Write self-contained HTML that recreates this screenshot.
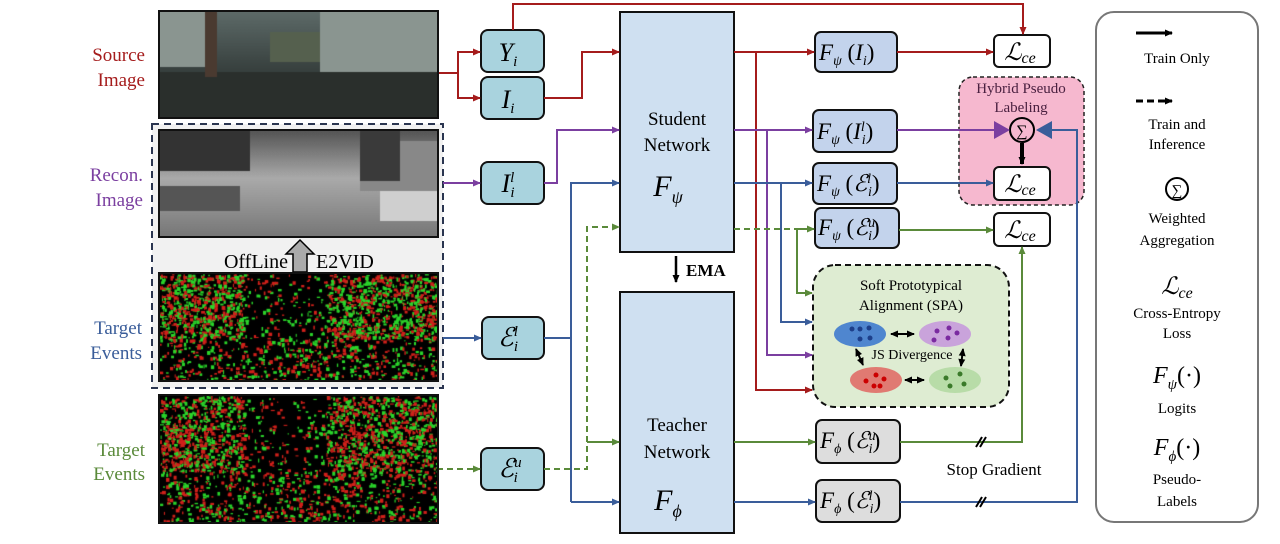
<!DOCTYPE html>
<html><head><meta charset="utf-8"><style>
html,body{margin:0;padding:0;background:#fff;width:1280px;height:544px;overflow:hidden}
#w{position:relative;width:1280px;height:544px}
canvas{position:absolute;z-index:2;outline:2px solid #111}
svg{position:absolute;left:0;top:0;z-index:1}
text{font-family:"Liberation Serif",serif}
.m{font-style:italic}
</style></head><body><div id="w">
<canvas id="c1" width="277" height="105" style="left:160px;top:12px"></canvas>
<canvas id="c2" width="277" height="105" style="left:160px;top:131px"></canvas>
<canvas id="c3" width="277" height="106" style="left:160px;top:274px"></canvas>
<canvas id="c4" width="277" height="126" style="left:160px;top:396px"></canvas>
<svg width="1280" height="544" viewBox="0 0 1280 544">
<defs>
<marker id="ar" markerWidth="8" markerHeight="8" refX="7" refY="4" orient="auto" markerUnits="userSpaceOnUse"><path d="M0,0.5 L8,4 L0,7.5z" fill="#a51c1c"/></marker>
<marker id="ap" markerWidth="8" markerHeight="8" refX="7" refY="4" orient="auto" markerUnits="userSpaceOnUse"><path d="M0,0.5 L8,4 L0,7.5z" fill="#7b3fa0"/></marker>
<marker id="ab" markerWidth="8" markerHeight="8" refX="7" refY="4" orient="auto" markerUnits="userSpaceOnUse"><path d="M0,0.5 L8,4 L0,7.5z" fill="#3a5d9a"/></marker>
<marker id="ag" markerWidth="8" markerHeight="8" refX="7" refY="4" orient="auto" markerUnits="userSpaceOnUse"><path d="M0,0.5 L8,4 L0,7.5z" fill="#5a8a3a"/></marker>
<marker id="ak" markerWidth="8" markerHeight="8" refX="7" refY="4" orient="auto-start-reverse" markerUnits="userSpaceOnUse"><path d="M0,0.5 L8,4 L0,7.5z" fill="#000"/></marker>
</defs>
<rect x="152" y="124" width="291" height="264" fill="#f1f1f1" stroke="#2a3550" stroke-width="2" stroke-dasharray="7,5"/>
<text x="288" y="268" font-size="20" text-anchor="end">OffLine</text>
<path d="M293,272 V254 H286 L300,240 L314,254 H307 V272 Z" fill="#aaa" stroke="#000" stroke-width="1.5"/>
<text x="316" y="268" font-size="20">E2VID</text>
<g font-size="19" text-anchor="end">
<text x="145" y="61" fill="#a51c1c">Source</text><text x="145" y="86" fill="#a51c1c">Image</text>
<text x="143" y="181" fill="#7b3fa0">Recon.</text><text x="143" y="206" fill="#7b3fa0">Image</text>
<text x="142" y="334" fill="#3a5d9a">Target</text><text x="142" y="359" fill="#3a5d9a">Events</text>
<text x="145" y="456" fill="#5a8a3a">Target</text><text x="145" y="480" fill="#5a8a3a">Events</text>
</g>
<g fill="#a9d3de" stroke="#111" stroke-width="2">
<rect x="481" y="30" width="63" height="42" rx="7"/>
<rect x="481" y="77" width="63" height="42" rx="7"/>
<rect x="481" y="162" width="63" height="42" rx="7"/>
<rect x="482" y="317" width="62" height="42" rx="7"/>
<rect x="481" y="448" width="63" height="42" rx="7"/>
</g>
<g font-size="26" class="m" text-anchor="middle">
<text x="508" y="61" class="m">Y<tspan font-size="15" dy="5">i</tspan></text>
<text x="508" y="108" class="m">I<tspan font-size="15" dy="5">i</tspan></text>
<text x="508" y="192" class="m">I<tspan font-size="15" dy="-10">l</tspan><tspan font-size="15" dx="-4" dy="15">i</tspan></text>
<text x="508" y="346" class="m">ℰ<tspan font-size="15" dy="-10">l</tspan><tspan font-size="15" dx="-4" dy="15">i</tspan></text>
<text x="510" y="477" class="m">ℰ<tspan font-size="15" dy="-10">u</tspan><tspan font-size="15" dx="-8" dy="15">i</tspan></text>
</g>
<rect x="620" y="12" width="114" height="240" fill="#cfe0f1" stroke="#111" stroke-width="2"/>
<rect x="620" y="292" width="114" height="241" fill="#cfe0f1" stroke="#111" stroke-width="2"/>
<g font-size="19" text-anchor="middle"><text x="677" y="125">Student</text><text x="677" y="151">Network</text>
<text x="677" y="431">Teacher</text><text x="677" y="458">Network</text></g>
<text x="668" y="196" font-size="30" class="m" text-anchor="middle">F<tspan font-size="18" dy="7">ψ</tspan></text>
<text x="668" y="510" font-size="30" class="m" text-anchor="middle">F<tspan font-size="18" dy="7">ϕ</tspan></text>
<line x1="676" y1="256" x2="676" y2="282" stroke="#000" stroke-width="2.5" marker-end="url(#ak)"/>
<text x="686" y="276" font-size="17" font-weight="bold">EMA</text>
<g stroke="#111" stroke-width="2">
<rect x="815" y="32" width="82" height="40" rx="6" fill="#c3d3ec"/>
<rect x="813" y="110" width="84" height="42" rx="6" fill="#c3d3ec"/>
<rect x="813" y="163" width="84" height="41" rx="6" fill="#c3d3ec"/>
<rect x="815" y="208" width="84" height="40" rx="6" fill="#c3d3ec"/>
<rect x="816" y="420" width="84" height="43" rx="6" fill="#ddd"/>
<rect x="816" y="480" width="84" height="42" rx="6" fill="#ddd"/>
</g>
<g font-size="23" class="m">
<text x="819" y="60">F<tspan font-size="14" dy="5">ψ</tspan><tspan dy="-5" font-style="normal"> (</tspan>I<tspan font-size="14" dy="5">i</tspan><tspan dy="-5" font-style="normal">)</tspan></text>
<text x="817" y="139">F<tspan font-size="14" dy="5">ψ</tspan><tspan dy="-5" font-style="normal"> (</tspan>I<tspan font-size="14" dy="-8">l</tspan><tspan font-size="14" dx="-3" dy="13">i</tspan><tspan dy="-5" font-style="normal">)</tspan></text>
<text x="817" y="191">F<tspan font-size="14" dy="5">ψ</tspan><tspan dy="-5" font-style="normal"> (</tspan>ℰ<tspan font-size="14" dy="-8">l</tspan><tspan font-size="14" dx="-3" dy="13">i</tspan><tspan dy="-5" font-style="normal">)</tspan></text>
<text x="818" y="235">F<tspan font-size="14" dy="5">ψ</tspan><tspan dy="-5" font-style="normal"> (</tspan>ℰ<tspan font-size="14" dy="-8">u</tspan><tspan font-size="14" dx="-7" dy="13">i</tspan><tspan dy="-5" font-style="normal">)</tspan></text>
<text x="820" y="448">F<tspan font-size="14" dy="5">ϕ</tspan><tspan dy="-5" font-style="normal"> (</tspan>ℰ<tspan font-size="14" dy="-8">u</tspan><tspan font-size="14" dx="-7" dy="13">i</tspan><tspan dy="-5" font-style="normal">)</tspan></text>
<text x="820" y="508">F<tspan font-size="14" dy="5">ϕ</tspan><tspan dy="-5" font-style="normal"> (</tspan>ℰ<tspan font-size="14" dy="-8">l</tspan><tspan font-size="14" dx="-3" dy="13">i</tspan><tspan dy="-5" font-style="normal">)</tspan></text>
</g>
<rect x="959" y="77" width="125" height="128" rx="14" fill="#f6b8cf" stroke="#222" stroke-width="1.5" stroke-dasharray="4,3"/>
<text x="1021" y="93" font-size="15" text-anchor="middle" fill="#4a2040">Hybrid Pseudo</text>
<text x="1021" y="112" font-size="15" text-anchor="middle" fill="#4a2040">Labeling</text>
<rect x="813" y="265" width="196" height="142" rx="22" fill="#deecd2" stroke="#111" stroke-width="2" stroke-dasharray="6,4"/>
<text x="911" y="290" font-size="15" text-anchor="middle">Soft Prototypical</text>
<text x="911" y="310" font-size="15" text-anchor="middle">Alignment (SPA)</text>
<ellipse cx="860" cy="334" rx="26" ry="13" fill="#4f86cf"/>
<ellipse cx="945" cy="334" rx="26" ry="13" fill="#c9a3db"/>
<ellipse cx="876" cy="380" rx="26" ry="13" fill="#e07a72"/>
<ellipse cx="955" cy="380" rx="26" ry="13" fill="#b8dca8"/>
<g fill="#1d3f8a"><circle cx="852" cy="329" r="2.5"/><circle cx="860" cy="329" r="2.5"/><circle cx="869" cy="328" r="2.5"/><circle cx="860" cy="339" r="2.5"/><circle cx="870" cy="338" r="2.5"/></g>
<g fill="#7a2aa0"><circle cx="937" cy="331" r="2.5"/><circle cx="949" cy="328" r="2.5"/><circle cx="934" cy="340" r="2.5"/><circle cx="948" cy="338" r="2.5"/><circle cx="957" cy="333" r="2.5"/></g>
<g fill="#c00"><circle cx="866" cy="381" r="2.5"/><circle cx="876" cy="375" r="2.5"/><circle cx="884" cy="379" r="2.5"/><circle cx="874" cy="386" r="2.5"/><circle cx="880" cy="386" r="2.5"/></g>
<g fill="#3a7a2a"><circle cx="946" cy="378" r="2.5"/><circle cx="960" cy="374" r="2.5"/><circle cx="950" cy="386" r="2.5"/><circle cx="964" cy="384" r="2.5"/></g>
<g stroke="#000" stroke-width="2"><line x1="891" y1="334" x2="914" y2="334" marker-start="url(#ak)" marker-end="url(#ak)"/>
<line x1="905" y1="380" x2="924" y2="380" marker-start="url(#ak)" marker-end="url(#ak)"/>
<line x1="856" y1="349" x2="863" y2="365" marker-start="url(#ak)" marker-end="url(#ak)"/>
<line x1="963" y1="349" x2="961" y2="366" marker-start="url(#ak)" marker-end="url(#ak)"/></g>
<text x="912" y="359" font-size="14" text-anchor="middle">JS Divergence</text>
<g fill="#fff" stroke="#111" stroke-width="2">
<rect x="994" y="35" width="56" height="32" rx="5"/><rect x="994" y="167" width="56" height="33" rx="5"/><rect x="994" y="213" width="56" height="33" rx="5"/></g>
<g font-size="24" class="m" text-anchor="middle"><text x="1020" y="60">ℒ<tspan font-size="16" dy="3">ce</tspan></text><text x="1020" y="192">ℒ<tspan font-size="16" dy="3">ce</tspan></text><text x="1020" y="238">ℒ<tspan font-size="16" dy="3">ce</tspan></text></g>
<circle cx="1022" cy="130" r="12" fill="none" stroke="#000" stroke-width="2"/>
<text x="1022" y="136" font-size="16" text-anchor="middle">∑</text>
<line x1="1022" y1="143" x2="1022" y2="164" stroke="#000" stroke-width="4" marker-end="url(#ak)"/>
<g fill="none" stroke="#a51c1c" stroke-width="2">
<path d="M437,73 H458 V52 H480" marker-end="url(#ar)"/><path d="M458,73 V98 H480" marker-end="url(#ar)"/>
<path d="M544,98 H582 V52 H619" marker-end="url(#ar)"/>
<path d="M513,30 V4 H1023 V34" marker-end="url(#ar)"/>
<path d="M734,52 H814" marker-end="url(#ar)"/>
<path d="M756,52 V390 H812" marker-end="url(#ar)"/>
<path d="M897,52 H993" marker-end="url(#ar)"/>
</g>
<g fill="none" stroke="#7b3fa0" stroke-width="2">
<path d="M443,183 H480" marker-end="url(#ap)"/>
<path d="M544,183 H557 V130 H619" marker-end="url(#ap)"/>
<path d="M734,130 H812" marker-end="url(#ap)"/>
<path d="M767,130 V355 H812" marker-end="url(#ap)"/>
<path d="M897,130 H994"/>
</g>
<path d="M994,121 L1010,130 L994,139Z" fill="#7b3fa0"/>
<g fill="none" stroke="#3a5d9a" stroke-width="2">
<path d="M443,338 H481" marker-end="url(#ab)"/>
<path d="M544,338 H571"/>
<path d="M571,502 V183 H619" marker-end="url(#ab)"/>
<path d="M571,502 H619" marker-end="url(#ab)"/>
<path d="M734,183 H812" marker-end="url(#ab)"/>
<path d="M781,183 V322 H812" marker-end="url(#ab)"/>
<path d="M897,183 H993" marker-end="url(#ab)"/>
<path d="M734,502 H815" marker-end="url(#ab)"/>
<path d="M900,502 H1077 V130 H1050"/>
</g>
<path d="M1052,121 L1036,130 L1052,139Z" fill="#3a5d9a"/>
<g fill="none" stroke="#5a8a3a" stroke-width="2">
<path d="M437,469 H480" stroke-dasharray="6,4" marker-end="url(#ag)"/>
<path d="M544,469 H587 V227 H619" stroke-dasharray="6,4" marker-end="url(#ag)"/>
<path d="M587,442 H619" marker-end="url(#ag)"/>
<path d="M734,229 H797" stroke-dasharray="6,4"/>
<path d="M797,229 H814" marker-end="url(#ag)"/>
<path d="M797,229 V293 H812" marker-end="url(#ag)"/>
<path d="M899,230 H993" marker-end="url(#ag)"/>
<path d="M734,442 H815" marker-end="url(#ag)"/>
<path d="M900,442 H1022 V247" marker-end="url(#ag)"/>
</g>
<g stroke="#000" stroke-width="2"><line x1="976" y1="447" x2="982" y2="437"/><line x1="980" y1="447" x2="986" y2="437"/>
<line x1="976" y1="507" x2="982" y2="497"/><line x1="980" y1="507" x2="986" y2="497"/></g>
<text x="994" y="475" font-size="17" text-anchor="middle">Stop Gradient</text>
<rect x="1096" y="12" width="162" height="510" rx="18" fill="#fff" stroke="#777" stroke-width="2"/>
<line x1="1136" y1="33" x2="1172" y2="33" stroke="#000" stroke-width="3" marker-end="url(#ak)"/>
<line x1="1136" y1="101" x2="1172" y2="101" stroke="#000" stroke-width="3" stroke-dasharray="7,4" marker-end="url(#ak)"/>
<circle cx="1177" cy="189" r="11" fill="none" stroke="#000" stroke-width="2"/>
<text x="1177" y="195" font-size="15" text-anchor="middle">∑</text>
<g font-size="15" text-anchor="middle">
<text x="1177" y="63">Train Only</text><text x="1177" y="129">Train and</text><text x="1177" y="149">Inference</text>
<text x="1177" y="223">Weighted</text><text x="1177" y="245">Aggregation</text>
<text x="1177" y="318">Cross-Entropy</text><text x="1177" y="338">Loss</text>
<text x="1177" y="413">Logits</text><text x="1177" y="484">Pseudo-</text><text x="1177" y="506">Labels</text></g>
<text x="1177" y="294" font-size="24" class="m" text-anchor="middle">ℒ<tspan font-size="16" dy="4">ce</tspan></text>
<text x="1177" y="383" font-size="24" text-anchor="middle"><tspan class="m">F</tspan><tspan font-size="15" dy="6" class="m">ψ</tspan><tspan dy="-6">(·)</tspan></text>
<text x="1177" y="455" font-size="24" text-anchor="middle"><tspan class="m">F</tspan><tspan font-size="15" dy="6" class="m">ϕ</tspan><tspan dy="-6">(·)</tspan></text>
</svg></div>
<script>
function R(s){return function(){s=(s*16807)%2147483647;return s/2147483647;}}
var r=R(7);
(function(){var c=document.getElementById('c1').getContext('2d');var g=c.createLinearGradient(0,0,0,105);g.addColorStop(0,'#5d6a68');g.addColorStop(0.5,'#3b4442');g.addColorStop(1,'#1f2624');c.fillStyle=g;c.fillRect(0,0,277,105);
c.fillStyle='#8a9590';c.fillRect(0,0,45,55);c.fillRect(160,0,117,60);c.fillStyle='#55604e';c.fillRect(110,20,50,30);c.fillStyle='#2a2f2c';c.fillRect(0,60,277,45);c.fillStyle='#4a3a30';c.fillRect(45,0,12,65);})();
(function(){var c=document.getElementById('c2').getContext('2d');var g=c.createLinearGradient(0,0,0,105);g.addColorStop(0,'#555');g.addColorStop(0.45,'#aaa');g.addColorStop(1,'#777');c.fillStyle=g;c.fillRect(0,0,277,105);c.fillStyle='#333';c.fillRect(0,0,90,40);c.fillStyle='#555';c.fillRect(0,55,80,25);c.fillStyle='#888';c.fillRect(200,10,77,50);c.fillStyle='#cfcfcf';c.fillRect(220,60,57,30);c.fillStyle='#3a3a3a';c.fillRect(200,0,40,50);})();
function ev(id,w,h,n){var c=document.getElementById(id).getContext('2d');c.fillStyle='#000';c.fillRect(0,0,w,h);for(var i=0;i<n;i++){var x=r()*w,y=r()*h;var cx=Math.abs(x-w*0.45)/w;var d=(y<h*0.6)?(cx>0.15?0.75:0.15):0.3;if(r()>d)continue;c.fillStyle=r()<0.5?'#d0201a':'#2ad42a';c.fillRect(x,y,r()*3+1,r()*3+1);}}
ev('c3',277,106,5000);ev('c4',277,126,5500);
</script>
</body></html>
